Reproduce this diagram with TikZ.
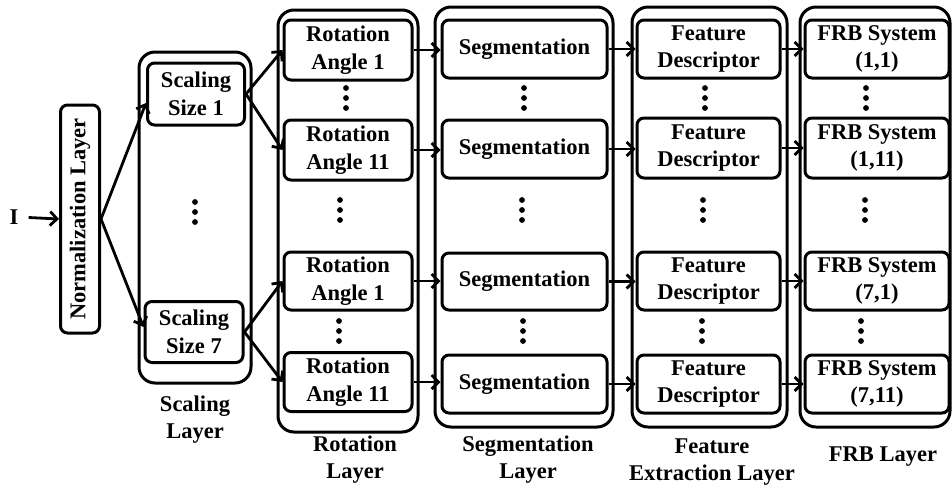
\documentclass[tikz,border=0pt]{standalone}
\usepackage{graphicx}
\usepackage{fontspec}
\setmainfont{Liberation Serif}
\usetikzlibrary{arrows.meta}
\tikzset{
  box/.style={draw, line width=3pt, rounded corners=7pt, align=center, inner sep=0pt,
    font=\fontsize{22.5}{27.5}\selectfont\bfseries},
  layerbox/.style={draw, line width=3pt, rounded corners=16pt, inner sep=0pt},
  lab/.style={align=center, inner sep=0pt, font=\fontsize{22.5}{27}\selectfont\bfseries},
  arr/.style={-{Straight Barb[length=7pt,width=14pt,line width=2.8pt]}, line width=2.8pt},
  vd/.pic={\fill (0,-10) circle (2.9pt); \fill (0,0) circle (2.9pt); \fill (0,10) circle (2.9pt);}
}
\begin{document}
\begin{tikzpicture}[x=1pt,y=-1pt]
\useasboundingbox (0,0) rectangle (952,488);
% containers
\node[layerbox, minimum width=112pt, minimum height=331pt] (scl) at (195,217.5) {};
\node[layerbox, minimum width=140pt, minimum height=422pt] (rotl) at (348,221) {};
\node[layerbox, minimum width=178pt, minimum height=420pt] (segl) at (524,217) {};
\node[layerbox, minimum width=155pt, minimum height=420pt] (fel) at (709.5,217) {};
\node[layerbox, minimum width=150pt, minimum height=420pt] (frbl) at (875,217) {};
% input and normalization
\node[lab] (in) at (14,217) {I};
\node[box, minimum width=39pt, minimum height=228pt] (norm) at (80,219) {\rotatebox{90}{Normalization Layer}};
% scaling
\node[box, minimum width=97pt, minimum height=62pt] (sc1) at (196,94) {Scaling\\Size 1};
\node[box, minimum width=98pt, minimum height=61pt] (sc7) at (194,332) {Scaling\\Size 7};
% rotation
\node[box, minimum width=128pt, minimum height=60pt] (r1) at (348,50) {Rotation\\Angle 1};
\node[box, minimum width=128pt, minimum height=60pt] (r2) at (348,150) {Rotation\\Angle 11};
\node[box, minimum width=128pt, minimum height=58pt] (r3) at (348,281) {Rotation\\Angle 1};
\node[box, minimum width=128pt, minimum height=59pt] (r4) at (348,382) {Rotation\\Angle 11};
% segmentation
\node[box, minimum width=165pt, minimum height=58pt] (s1) at (524.5,49) {Segmentation};
\node[box, minimum width=165pt, minimum height=58pt] (s2) at (524.5,149) {Segmentation};
\node[box, minimum width=165pt, minimum height=57pt] (s3) at (524.5,281.5) {Segmentation};
\node[box, minimum width=165pt, minimum height=58pt] (s4) at (524.5,384) {Segmentation};
% feature
\node[box, minimum width=143pt, minimum height=58pt] (f1) at (708.5,49) {Feature\\Descriptor};
\node[box, minimum width=143pt, minimum height=60pt] (f2) at (708.5,148) {Feature\\Descriptor};
\node[box, minimum width=143pt, minimum height=58pt] (f3) at (708.5,281) {Feature\\Descriptor};
\node[box, minimum width=143pt, minimum height=58pt] (f4) at (708.5,384) {Feature\\Descriptor};
% FRB
\node[box, minimum width=144pt, minimum height=58pt] (b1) at (877,49) {FRB System\\(1,1)};
\node[box, minimum width=144pt, minimum height=60pt] (b2) at (877,148) {FRB System\\(1,11)};
\node[box, minimum width=144pt, minimum height=58pt] (b3) at (877,281) {FRB System\\(7,1)};
\node[box, minimum width=144pt, minimum height=58pt] (b4) at (877,384) {FRB System\\(7,11)};
% dots
\pic at (195,212) {vd};
\pic at (346,98) {vd}; \pic at (340,210) {vd}; \pic at (339,331) {vd};
\pic at (524,98) {vd}; \pic at (522,210) {vd}; \pic at (523,331) {vd};
\pic at (705,98) {vd}; \pic at (703,210) {vd}; \pic at (702,331) {vd};
\pic at (866,98) {vd}; \pic at (865,210) {vd}; \pic at (861,331) {vd};
% layer labels
\node[lab] (sclab) at (195,420) {Scaling\\Layer};
\node[lab] (rotlab) at (355,460) {Rotation\\Layer};
\node[lab] (seglab) at (528,460) {Segmentation\\Layer};
\node[lab] (felab) at (712,462) {Feature\\Extraction Layer};
\node[lab] (frblab) at (883,457) {FRB Layer};
% arrows
\draw[arr, shorten <=10pt] (in.east) -- (norm.west);
\draw[arr] (norm.east) -- ([yshift=-9pt]sc1.west);
\draw[arr] (norm.east) -- ([yshift=5pt]sc7.west);
\draw[arr] (sc1.east) -- (r1.west);
\draw[arr] (sc1.east) -- (r2.west);
\draw[arr] (sc7.east) -- (r3.west);
\draw[arr] (sc7.east) -- (r4.west);
\foreach \i in {1,2,3,4}{
  \draw[arr] (r\i.east) -- (r\i.east -| s\i.west);
  \draw[arr] (s\i.east) -- (s\i.east -| f\i.west);
  \draw[arr] (f\i.east) -- (f\i.east -| b\i.west);
}
\end{tikzpicture}
\end{document}
